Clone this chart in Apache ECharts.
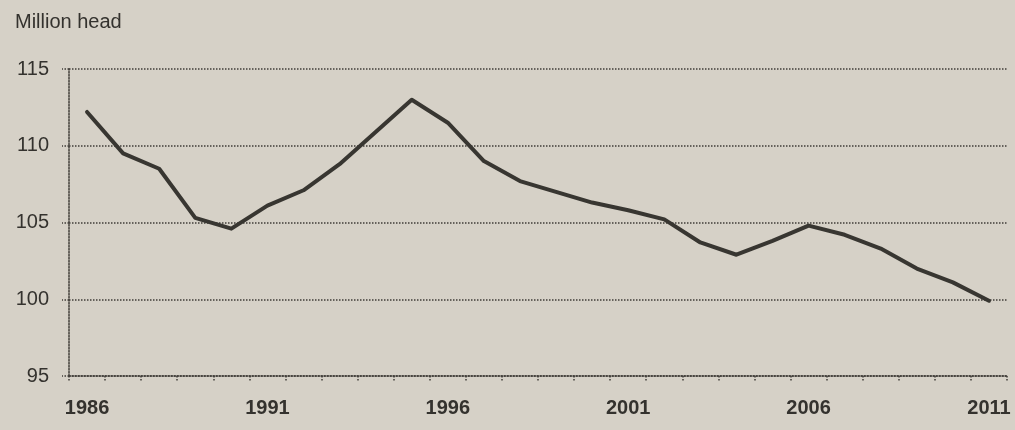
<!DOCTYPE html>
<html>
<head>
<meta charset="utf-8">
<script src="https://cdn.jsdelivr.net/npm/echarts@6/dist/echarts.min.js"></script>
<style>
  html, body { margin: 0; padding: 0; background: #d6d1c7; }
  #chart { width: 1015px; height: 430px; }
</style>
</head>
<body>
<div id="chart"></div>
<script>
const years = [
  '1986', '1987', '1988', '1989', '1990', '1991', '1992', '1993', '1994',
  '1995', '1996', '1997', '1998', '1999', '2000', '2001', '2002', '2003',
  '2004', '2005', '2006', '2007', '2008', '2009', '2010', '2011'
]

// million head
const herd = [
  112.2, 109.5, 108.5, 105.3, 104.6, 106.1, 107.1, 108.8, 110.9,
  113.0, 111.5, 109.0, 107.7, 107.0, 106.3, 105.8, 105.2, 103.7,
  102.9, 103.8, 104.8, 104.2, 103.3, 102.0, 101.1, 99.9
]

const yTicks = [95, 100, 105, 110, 115]

const ink = '#34322e'
const dotted = { color: '#403d38', width: 1.5, type: [1.5, 1.5] }

const chart = echarts.init(document.getElementById('chart'))

chart.setOption({
  backgroundColor: '#d6d1c7',
  animation: false,
  textStyle: { fontFamily: 'Liberation Sans, Arial, sans-serif' },
  title: {
    text: 'Million head',
    left: 10,
    top: 7,
    textStyle: { color: ink, fontSize: 20, fontWeight: 500 }
  },
  grid: { left: 69, right: 8, top: 69, bottom: 54 },
  xAxis: {
    type: 'category',
    data: years,
    boundaryGap: true,
    axisLine: { lineStyle: dotted },
    axisTick: { show: true, length: 5, interval: 0, lineStyle: dotted },
    axisLabel: {
      interval: 4,
      color: ink,
      fontSize: 20,
      fontWeight: 'bold',
      margin: 22
    },
    splitLine: { show: false }
  },
  yAxis: {
    type: 'value',
    min: yTicks[0],
    max: yTicks[yTicks.length - 1],
    interval: 5,
    axisLine: { show: true, lineStyle: dotted },
    axisTick: { show: true, length: 7, lineStyle: dotted },
    axisLabel: { color: ink, fontSize: 20, fontWeight: 500, margin: 20 },
    splitLine: { show: true, lineStyle: dotted }
  },
  series: [{
    type: 'line',
    data: herd,
    symbol: 'none',
    lineStyle: { color: '#383631', width: 4, join: 'round', cap: 'round' }
  }]
})
</script>
</body>
</html>
